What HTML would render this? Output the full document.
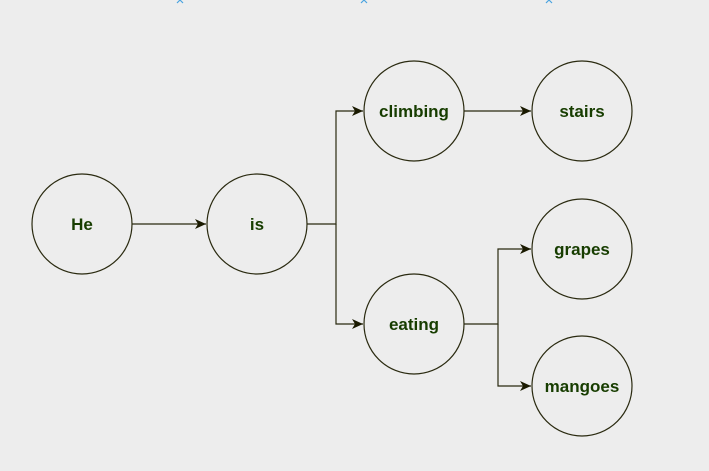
<!DOCTYPE html>
<html><head><style>body{margin:0;background:#ededed;}svg{display:block}</style></head><body>
<svg width="709" height="471" xmlns="http://www.w3.org/2000/svg">
<defs><marker id="a" markerWidth="12" markerHeight="12" refX="11" refY="6" orient="auto" markerUnits="userSpaceOnUse"><path d="M0,1 L11,6 L0,11 L3,6 Z" fill="#1a1a00"/></marker></defs>
<g fill="none" stroke="#2a2a10" stroke-width="1.2">
<path d="M132,224 H206" marker-end="url(#a)"/>
<path d="M307,224 H336 V111 H363" marker-end="url(#a)"/>
<path d="M336,224 V324 H363" marker-end="url(#a)"/>
<path d="M464,111 H531" marker-end="url(#a)"/>
<path d="M464,324 H498 V249 H531" marker-end="url(#a)"/>
<path d="M498,324 V386 H531" marker-end="url(#a)"/>
</g>
<g fill="none" stroke="#2a2a10" stroke-width="1.2">
<circle cx="82" cy="224" r="50"/><circle cx="257" cy="224" r="50"/>
<circle cx="414" cy="111" r="50"/><circle cx="582" cy="111" r="50"/>
<circle cx="414" cy="324" r="50"/><circle cx="582" cy="249" r="50"/>
<circle cx="582" cy="386" r="50"/>
</g>
<g font-family="Liberation Sans, sans-serif" font-weight="bold" font-size="17" fill="#173d00" text-anchor="middle">
<text x="82" y="230">He</text><text x="257" y="230">is</text>
<text x="414" y="117">climbing</text><text x="582" y="117">stairs</text>
<text x="414" y="330">eating</text><text x="582" y="255">grapes</text>
<text x="582" y="392">mangoes</text>
</g>
<g fill="none" stroke="#4aa3e0" stroke-width="1.2">
<path d="M177,3 L180,0 L183,3"/><path d="M361,3 L364,0 L367,3"/><path d="M546,3 L549,0 L552,3"/>
</g>
</svg>
</body></html>
